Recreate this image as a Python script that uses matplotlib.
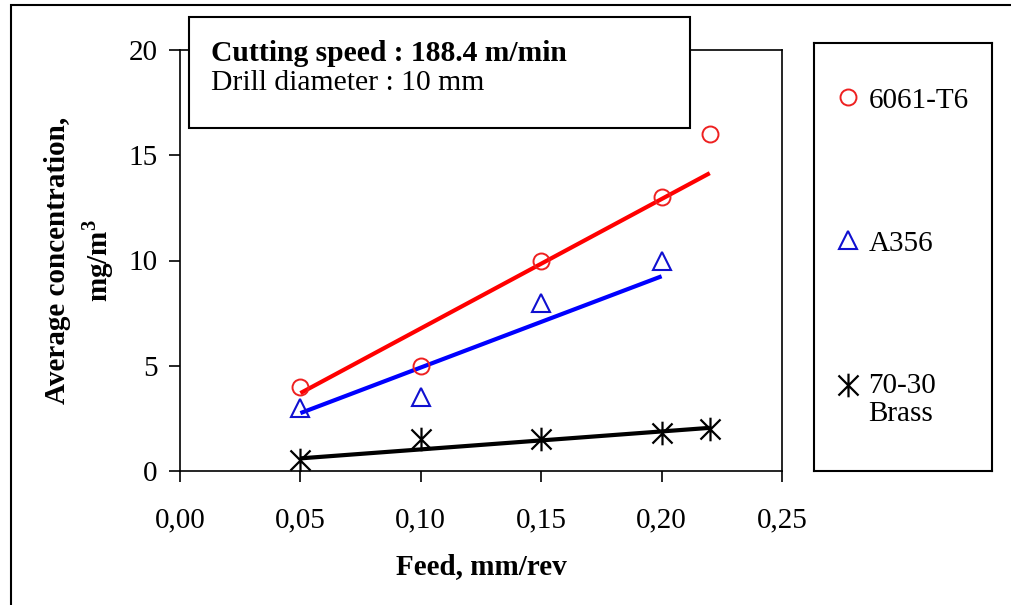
import numpy as np
import matplotlib
matplotlib.use("Agg")
import matplotlib.pyplot as plt
from matplotlib.patches import Rectangle
from matplotlib.path import Path
from matplotlib.legend_handler import HandlerLine2D

# ---------------- data ----------------
feed_6061 = [0.05, 0.10, 0.15, 0.20, 0.22]
conc_6061 = [4.0, 5.0, 10.0, 13.0, 16.0]
fit_x_6061 = [0.05, 0.22]
fit_y_6061 = [3.7, 14.15]

feed_a356 = [0.05, 0.10, 0.15, 0.20]
conc_a356 = [3.0, 3.5, 8.0, 10.0]
fit_x_a356 = [0.05, 0.20]
fit_y_a356 = [2.75, 9.25]

feed_brass = [0.05, 0.10, 0.15, 0.20, 0.22]
conc_brass = [0.5, 1.5, 1.5, 1.8, 2.0]
fit_x_brass = [0.05, 0.22]
fit_y_brass = [0.6, 2.05]

series_labels = ["6061-T6", "A356", "70-30\nBrass"]
x_ticks = [0.00, 0.05, 0.10, 0.15, 0.20, 0.25]
x_tick_labels = ["0,00", "0,05", "0,10", "0,15", "0,20", "0,25"]
y_ticks = [0, 5, 10, 15, 20]
y_tick_labels = ["0", "5", "10", "15", "20"]
box_line1 = "Cutting speed : 188.4 m/min"
box_line2 = "Drill diameter : 10 mm"
x_label = "Feed, mm/rev"
y_label = "Average concentration,\nmg/m$^{\\mathbf{3}}$"

# ---------------- style ----------------
plt.rcParams["font.family"] = ["Liberation Serif", "DejaVu Serif"]
plt.rcParams["mathtext.fontset"] = "custom"
plt.rcParams["mathtext.rm"] = "Liberation Serif"
plt.rcParams["mathtext.bf"] = "Liberation Serif:bold"

W, H = 1011, 605
fig = plt.figure(figsize=(W / 100, H / 100), dpi=100)
fig.patch.set_facecolor("white")

def fx(px):
    return px / W

def fy(py):
    return (H - py) / H

# outer frame (cut off at right and bottom)
fig.add_artist(Rectangle((fx(11), fy(700)), fx(1100) - fx(11), fy(5) - fy(700),
                         transform=fig.transFigure, fill=False, edgecolor="black",
                         linewidth=1.5, zorder=0))

# main axes
ax = fig.add_axes([fx(180), fy(471), fx(782) - fx(180), fy(50) - fy(471)])
ax.set_xlim(0, 0.25)
ax.set_ylim(0, 20)
for s in ax.spines.values():
    s.set_linewidth(1.2)

# trend lines
ax.plot(fit_x_6061, fit_y_6061, color="#ff0000", lw=3.0, solid_capstyle="butt", zorder=2)
ax.plot(fit_x_a356, fit_y_a356, color="#0000ff", lw=3.0, solid_capstyle="butt", zorder=2)
ax.plot(fit_x_brass, fit_y_brass, color="black", lw=3.0, solid_capstyle="butt", zorder=2)

# asterisk marker: vertical stroke + X
star_verts = [(0, -1), (0, 1), (-0.85, -0.85), (0.85, 0.85), (-0.85, 0.85), (0.85, -0.85)]
star_codes = [Path.MOVETO, Path.LINETO] * 3
star_marker = Path(star_verts, star_codes)

h1, = ax.plot(feed_6061, conc_6061, linestyle="none", marker="o", ms=11.5,
              mfc="none", mec="#ee2020", mew=1.4, label=series_labels[0], zorder=3)
h2, = ax.plot(feed_a356, conc_a356, linestyle="none", marker="^", ms=12.5,
              mfc="none", mec="#1010d0", mew=1.5, label=series_labels[1], zorder=3)
h3, = ax.plot(feed_brass, conc_brass, linestyle="none", marker=star_marker, ms=17,
              mfc="none", mec="black", mew=1.6, label=series_labels[2], zorder=3)

ax.set_xticks(x_ticks)
ax.set_xticklabels(x_tick_labels)
ax.set_yticks(y_ticks)
ax.set_yticklabels(y_tick_labels)
ax.tick_params(axis="x", direction="out", length=8, width=1.2, pad=18, labelsize=21)
ax.tick_params(axis="y", direction="out", length=8, width=1.2, pad=8, labelsize=21)

ax.set_xlabel(x_label, fontsize=21, fontweight="bold", labelpad=14)
ax.set_ylabel(y_label, fontsize=21, fontweight="bold", va="center",
              multialignment="center", linespacing=1.35)
ax.yaxis.set_label_coords((80 - 180) / 602, 0.5)

# info box
fig.add_artist(Rectangle((fx(189), fy(128)), fx(690) - fx(189), fy(17) - fy(128),
                         transform=fig.transFigure, facecolor="white", edgecolor="black",
                         linewidth=1.5, zorder=5))
fig.text(fx(211), fy(61), box_line1, fontsize=21.3, fontweight="bold",
         ha="left", va="baseline", zorder=6)
fig.text(fx(211), fy(90), box_line2, fontsize=21.3,
         ha="left", va="baseline", zorder=6)


class RaisedLineHandler(HandlerLine2D):
    """Places the legend marker level with the first line of a two-line label."""
    def __init__(self, raise_frac=0.0, **kw):
        super().__init__(**kw)
        self.raise_frac = raise_frac

    def create_artists(self, legend, orig_handle, xdescent, ydescent, width,
                       height, fontsize, trans):
        arts = super().create_artists(legend, orig_handle, xdescent, ydescent,
                                      width, height, fontsize, trans)
        for a in arts:
            a.set_ydata(np.asarray(a.get_ydata(), dtype=float) + self.raise_frac * fontsize)
        return arts


# legend box
lax = fig.add_axes([fx(814), fy(471), fx(992) - fx(814), fy(43) - fy(471)])
lax.set_xticks([])
lax.set_yticks([])
for s in lax.spines.values():
    s.set_linewidth(1.5)
leg = lax.legend([h1, h2, h3], series_labels, loc="upper left",
                 bbox_to_anchor=(0.11, 0.897), borderaxespad=0, borderpad=0,
                 frameon=False, fontsize=21, handlelength=1.0, handletextpad=0.2,
                 labelspacing=4.0, markerscale=1.0,
                 handler_map={h3: RaisedLineHandler(raise_frac=0.5)})
for t in leg.get_texts():
    t.set_linespacing(1.1)

fig.savefig("out.png", dpi=100, facecolor="white")
